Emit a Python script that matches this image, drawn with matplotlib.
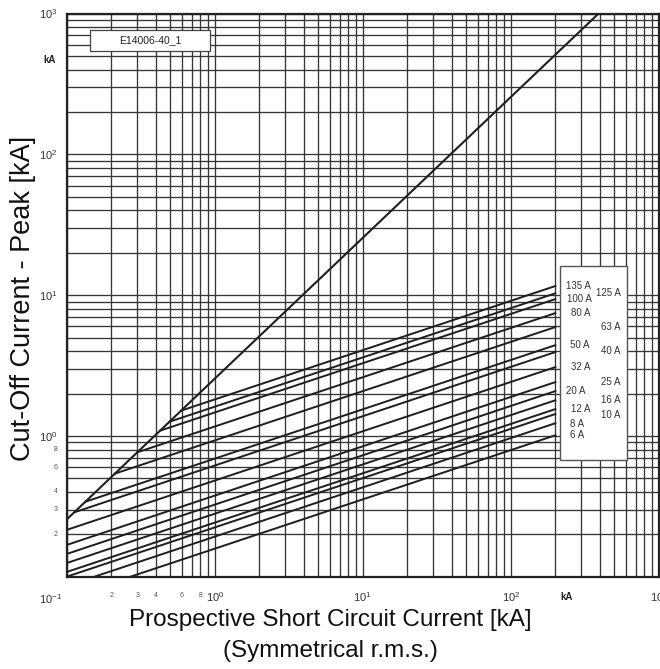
import matplotlib
matplotlib.use("Agg")
import matplotlib.pyplot as plt
from matplotlib.ticker import FixedLocator, FixedFormatter, LogLocator, NullFormatter
from matplotlib.patches import Rectangle

plt.rcParams["font.family"] = ["Liberation Sans", "DejaVu Sans"]
plt.rcParams["mathtext.fontset"] = "custom"
plt.rcParams["mathtext.rm"] = "Liberation Sans"
plt.rcParams["mathtext.it"] = "Liberation Sans:italic"
plt.rcParams["mathtext.bf"] = "Liberation Sans:bold"

# Unlimited peak current (straight line, log-log)
diag_x = [0.1, 392.0]
diag_y = [0.255, 1000.0]

# Fuse ratings and their cut-off lines (start point, end point)
ratings = ["6 A", "8 A", "10 A", "12 A", "16 A", "20 A", "25 A", "32 A",
           "40 A", "50 A", "63 A", "80 A", "100 A", "125 A", "135 A"]
start_x = [0.27, 0.154, 0.1, 0.1, 0.1, 0.1, 0.1, 0.1,
           0.113, 0.134, 0.211, 0.300, 0.427, 0.494, 0.593]
start_y = [0.1, 0.1, 0.1, 0.108, 0.125, 0.145, 0.168, 0.215,
           0.287, 0.341, 0.539, 0.765, 1.089, 1.26, 1.512]
end_x = [200.0] * 15
end_y = [1.01, 1.23, 1.43, 1.55, 1.79, 2.08, 2.41, 3.08,
         3.94, 4.41, 5.93, 7.45, 9.37, 10.3, 11.6]

# label layout inside the legend box (axes fraction)
label_pos = [(0.862, 0.252), (0.862, 0.272), (0.919, 0.288), (0.868, 0.298),
             (0.919, 0.314), (0.860, 0.330), (0.919, 0.346), (0.868, 0.372),
             (0.919, 0.400), (0.867, 0.411), (0.919, 0.444), (0.868, 0.468),
             (0.866, 0.493), (0.915, 0.503), (0.864, 0.516)]

major_ticks = [0.1, 1, 10, 100, 1000]
major_labels = ["", r"$10^{0}$", r"$10^{1}$", r"$10^{2}$", r"$10^{3}$"]
minor_ticks = [0.2, 0.3, 0.4, 0.6, 0.8]
minor_labels = ["2", "3", "4", "6", "8"]

fig = plt.figure(figsize=(6.6, 6.69), dpi=100)
ax = fig.add_axes([0.1011, 0.1380, 0.8970, 0.8417])
ax.set_xscale("log")
ax.set_yscale("log")
ax.set_xlim(0.1, 1000)
ax.set_ylim(0.1, 1000)

# grid on every 1..9 of each decade
ax.xaxis.set_minor_locator(LogLocator(base=10, subs=range(2, 10), numticks=50))
ax.yaxis.set_minor_locator(LogLocator(base=10, subs=range(2, 10), numticks=50))
ax.xaxis.set_minor_formatter(NullFormatter())
ax.yaxis.set_minor_formatter(NullFormatter())
ax.grid(which="both", color="#353535", lw=0.95)
ax.set_axisbelow(True)

ax.xaxis.set_major_locator(FixedLocator(major_ticks))
ax.xaxis.set_major_formatter(FixedFormatter(major_labels))
ax.yaxis.set_major_locator(FixedLocator(major_ticks))
ax.yaxis.set_major_formatter(FixedFormatter(major_labels))
ax.tick_params(which="both", length=0, labelsize=8, labelcolor="#333333")
ax.tick_params(axis="x", pad=10)
ax.tick_params(axis="y", pad=7)

for sp in ax.spines.values():
    sp.set_linewidth(1.6)
    sp.set_color("#222222")

# small minor labels, only in the first decade
for v, s in zip(minor_ticks, minor_labels):
    ax.text(v, -0.027, s, transform=ax.get_xaxis_transform(), ha="center",
            va="top", fontsize=5, color="#555555")
    ax.text(-0.016, v, s, transform=ax.get_yaxis_transform(), ha="right",
            va="center", fontsize=5, color="#555555")
ax.text(-0.028, -0.027, r"$10^{-1}$", transform=ax.transAxes, ha="center",
        va="top", fontsize=8, color="#333333")

# curves
ax.plot(diag_x, diag_y, color="#1e1e1e", lw=1.5, zorder=3)
for i in range(len(ratings)):
    ax.plot([start_x[i], end_x[i]], [start_y[i], end_y[i]],
            color="#1e1e1e", lw=1.4, zorder=3)

# legend box with ratings
ax.add_patch(Rectangle((0.833, 0.207), 0.114, 0.345, transform=ax.transAxes,
                       facecolor="white", edgecolor="#555555", lw=1.0, zorder=5))
for (px, py), s in zip(label_pos, ratings):
    ax.text(px, py, s, transform=ax.transAxes, ha="center", va="center",
            fontsize=7, color="#333333", zorder=6)

# id box
ax.add_patch(Rectangle((0.0394, 0.9335), 0.2027, 0.0373, transform=ax.transAxes,
                       facecolor="white", edgecolor="#444444", lw=0.9, zorder=5))
ax.text(0.1415, 0.952, "E14006-40_1", transform=ax.transAxes, ha="center",
        va="center", fontsize=7.5, color="#222222", zorder=6)

fig.text(50 / 660, 1 - 60 / 669, "kA", ha="center", va="center",
         fontsize=7, fontweight="bold", color="#222222")
fig.text(567 / 660, 1 - 597 / 669, "kA", ha="center", va="center",
         fontsize=7, fontweight="bold", color="#222222")

fig.text(0.5, 1 + 3 / 669, "Cut-Off Current Characteristics", ha="center",
         va="baseline", fontsize=20, color="#222222")
fig.text(23 / 660, 1 - 298 / 669, "Cut-Off Current - Peak [kA]", rotation=90,
         ha="center", va="center", fontsize=19.5, color="#111111")
fig.text(0.5, 1 - 620 / 669, "Prospective Short Circuit Current [kA]",
         ha="center", va="center", fontsize=17.5, color="#111111")
fig.text(0.5, 1 - 651 / 669, "(Symmetrical r.m.s.)",
         ha="center", va="center", fontsize=17.5, color="#111111")

fig.savefig("out.png", dpi=100)
